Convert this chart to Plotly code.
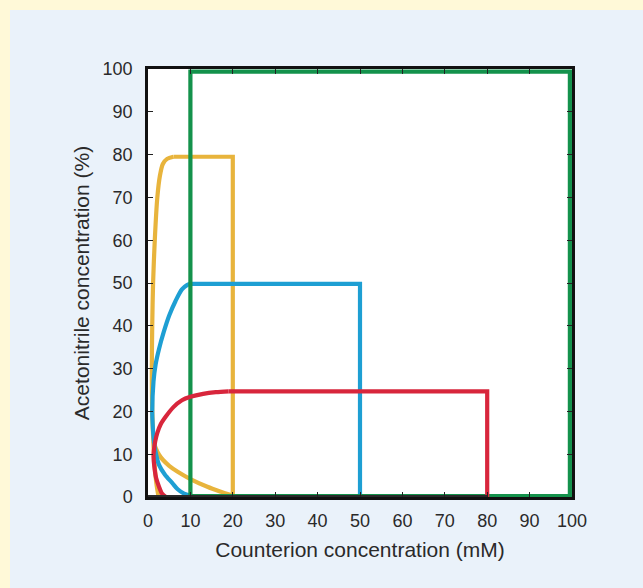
import plotly.graph_objects as go

# ---- data ----
x_ticks = [0, 10, 20, 30, 40, 50, 60, 70, 80, 90, 100]
y_ticks = [0, 10, 20, 30, 40, 50, 60, 70, 80, 90, 100]

# yellow loop (20 mM counterion, 80 % acetonitrile)
yellow_curve_x = [2.5, 2.0, 1.6, 1.3, 1.0, 0.9, 1.0, 1.2, 1.6, 2.2, 2.8, 3.5, 4.5, 6.0]
yellow_curve_y = [0.0, 3.0, 7.0, 12.0, 20.0, 30.0, 40.0, 50.0, 60.0, 70.0, 75.0, 77.8, 79.0, 79.5]
yellow_box_x = [6.0, 20.0, 20.0]
yellow_box_y = [79.5, 79.5, 0.0]
yellow_decay_x = [20.0, 17.0, 14.0, 10.0, 7.0, 5.0, 3.5, 2.6, 1.8, 1.3]
yellow_decay_y = [0.3, 1.3, 2.4, 4.2, 5.9, 7.3, 8.7, 9.9, 11.5, 13.0]

# blue loop (50 mM, 50 %)
blue_curve_x = [10.0, 8.5, 7.0, 5.7, 4.0, 2.6, 1.9, 1.4, 1.1, 1.0, 1.3, 1.8, 2.6, 3.7, 5.0, 6.5, 8.0, 9.2, 10.0]
blue_curve_y = [0.3, 0.8, 1.8, 3.3, 5.2, 7.5, 10.0, 13.0, 17.0, 20.0, 27.0, 31.0, 34.6, 38.5, 42.4, 45.8, 48.5, 49.5, 49.8]
blue_box_x = [10.0, 50.0, 50.0]
blue_box_y = [49.8, 49.8, 0.0]

# red loop (80 mM, 25 %)
red_curve_x = [4.2, 3.3, 2.6, 1.9, 1.5, 1.3, 1.4, 1.7, 2.2, 3.0, 4.2, 6.0, 8.0, 10.0, 13.0, 16.0, 19.0]
red_curve_y = [0.0, 0.8, 2.4, 4.5, 7.0, 9.5, 11.0, 13.0, 15.0, 17.0, 18.8, 21.0, 22.6, 23.4, 24.1, 24.5, 24.7]
red_box_x = [19.0, 80.0, 80.0]
red_box_y = [24.7, 24.7, 0.0]

# green loop (100 mM, 100 %)
green_x = [10.0, 10.0, 99.5, 99.5, 10.0]
green_y = [0.0, 99.4, 99.4, 0.2, 0.2]

# dark baseline along the bottom
base_x = [0.0, 80.0]
base_y = [0.0, 0.0]

YELLOW = "#E8B43C"
BLUE = "#1E9FD3"
RED = "#D8263C"
GREEN = "#14924C"
LW = 4.2
FONT = "Liberation Sans, Arial, sans-serif"

fig = go.Figure()

def add(x, y, color, shape="linear", width=LW):
    fig.add_trace(go.Scatter(x=x, y=y, mode="lines",
                             line=dict(color=color, width=width, shape=shape,
                                       smoothing=0.8 if shape == "spline" else None),
                             showlegend=False, hoverinfo="skip"))

add(yellow_curve_x, yellow_curve_y, YELLOW, "spline")
add(yellow_box_x, yellow_box_y, YELLOW)
add(yellow_decay_x, yellow_decay_y, YELLOW, "spline")
add(blue_curve_x, blue_curve_y, BLUE, "spline")
add(blue_box_x, blue_box_y, BLUE)
add(green_x, green_y, GREEN)
add(red_curve_x, red_curve_y, RED, "spline")
add(red_box_x, red_box_y, RED)
add(base_x, base_y, "#2a2a2a", width=4)

W, H = 643, 588
L, R, T, B = 148, 71, 69, 91
pw, ph = W - L - R, H - T - B

# light blue panel behind the chart (starts 10 px from the top/left edges)
fig.add_shape(type="rect", xref="paper", yref="paper",
              x0=(10 - L) / pw, x1=(W - L) / pw,
              y0=-B / ph, y1=(ph + T - 10) / ph,
              fillcolor="#EAF2FA", line=dict(width=0), layer="below")
# white plotting area on top of the panel
fig.add_shape(type="rect", xref="paper", yref="paper",
              x0=0, x1=1, y0=0, y1=1,
              fillcolor="#FFFFFF", line=dict(width=0), layer="below")

axis_common = dict(
    showgrid=False, zeroline=False,
    showline=True, linecolor="#111", linewidth=2.5, mirror="ticks",
    ticks="inside", ticklen=5, tickwidth=1.2, tickcolor="#222",
    tickfont=dict(family=FONT, size=18, color="#2a2a2a"),
)

fig.update_layout(
    width=W, height=H,
    margin=dict(l=L, r=R, t=T, b=B, autoexpand=False),
    paper_bgcolor="#FFF9D8",
    plot_bgcolor="#FFFFFF",
    xaxis=dict(range=[0, 100], tickvals=x_ticks, ticktext=[str(v) for v in x_ticks],
               ticklabelstandoff=6,
               title=dict(text="Counterion concentration (mM)", standoff=12,
                          font=dict(family=FONT, size=21, color="#2a2a2a")),
               **axis_common),
    yaxis=dict(range=[0, 100], tickvals=y_ticks, ticktext=[str(v) for v in y_ticks],
               ticklabelstandoff=9,
               title=dict(text="Acetonitrile concentration (%)", standoff=8,
                          font=dict(family=FONT, size=21, color="#2a2a2a")),
               **axis_common),
)

fig.write_html("out.html",
               config={"displayModeBar": False},
               post_script="document.body.style.margin='0';document.body.style.background='#FFF9D8';")
